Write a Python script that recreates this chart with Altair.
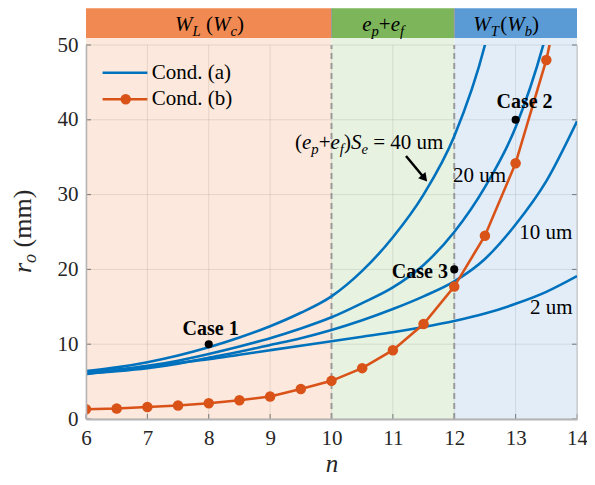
import altair as alt
import pandas as pd

# ---------------- data ----------------
N = [6.0, 6.5, 7.0, 7.5, 8.0, 8.5, 9.0, 9.5, 10.0, 10.5, 11.0, 11.5, 12.0, 12.5, 13.0, 13.5, 14.0]
R_40UM = [6.4, 6.9, 7.6, 8.5, 9.6, 10.9, 12.4, 14.2, 16.4, 19.8, 24.3, 30.0, 37.8, 50.0, 70.0, None, None]
R_20UM = [6.2, 6.6, 7.1, 7.8, 8.7, 9.7, 10.8, 12.1, 13.6, 15.5, 17.6, 20.6, 25.0, 31.0, 39.0, 51.5, 70.0]
R_10UM = [6.1, 6.4, 6.8, 7.4, 8.2, 9.0, 9.9, 10.8, 11.9, 13.2, 14.7, 16.4, 18.4, 21.4, 26.0, 31.8, 39.8]
R_2UM = [6.0, 6.5, 7.0, 7.5, 8.0, 8.6, 9.2, 9.8, 10.4, 11.0, 11.6, 12.3, 13.1, 14.1, 15.4, 17.0, 19.1]
R_COND_B = [1.3, 1.4, 1.6, 1.8, 2.1, 2.5, 3.0, 4.0, 5.1, 6.8, 9.2, 12.7, 17.7, 24.5, 34.2, 48.0, 67.0]

CASE_N = [8, 13, 12]
CASE_R = [10, 40, 20]
CASE_LABELS = ["Case 1", "Case 2", "Case 3"]

X_TICKS = [6, 7, 8, 9, 10, 11, 12, 13, 14]
Y_TICKS = [0, 10, 20, 30, 40, 50]

REGION_START = [6, 10, 12]
REGION_END = [10, 12, 14]
REGION_LIGHT = ["#FCE8DC", "#E8F2E1", "#E2EDF8"]
REGION_DARK = ["#F08A52", "#7DB65A", "#5B9BD5"]
BOUNDARIES = [10, 12]

LEGEND_LABELS = ["Cond. (a)", "Cond. (b)"]

# ---------------- layout / style ----------------
W, H = 491, 374
X_MIN, X_MAX, Y_MIN, Y_MAX = 6, 14, 0, 50
PXN = W / (X_MAX - X_MIN)
PXR = H / (Y_MAX - Y_MIN)
FONT = "Liberation Serif"
BLUE = "#0072BD"
ORANGE = "#D95319"
TXT = "#262626"
BAND_LO, BAND_HI = 50.95, 54.9

xs = alt.Scale(domain=[X_MIN, X_MAX], nice=False, zero=False)
ys = alt.Scale(domain=[Y_MIN, Y_MAX], nice=False, zero=False)

XAXIS = alt.Axis(
    values=X_TICKS, title="n", titleFontStyle="italic", titleFontWeight="normal",
    titleFont=FONT, titleFontSize=25, titleColor=TXT, titlePadding=3,
    labelFont=FONT, labelFontSize=21, labelColor=TXT, labelPadding=8,
    labelFlush=False, ticks=False, grid=False, domainColor="#b4b4b4",
    domainWidth=2, zindex=1)
YAXIS = alt.Axis(
    values=Y_TICKS, title=None, labelFont=FONT, labelFontSize=21,
    labelColor=TXT, labelPadding=8, ticks=False, grid=False,
    domainColor="#b4b4b4", domainWidth=1.5, zindex=1)


def X(f="n"):
    return alt.X(f"{f}:Q", scale=xs, axis=XAXIS, title="n")


def Y(f="r"):
    return alt.Y(f"{f}:Q", scale=ys, axis=YAXIS, title=None)


# char widths (per 1000 em), Times metrics
NORMAL_W = {" ": 250, "(": 333, ")": 333, "+": 564, "=": 564, "u": 500, "m": 778,
            "C": 667, "o": 500, "n": 500, "d": 500, ".": 250, "a": 444, "b": 500}
ITALIC_W = {"e": 444, "p": 500, "f": 278, "S": 500, "W": 833, "L": 556, "c": 444,
            "T": 640, "b": 500, "r": 389, "o": 500, "n": 500}
BOLD_W = {"C": 722, "a": 500, "s": 389, "e": 444, " ": 250}


def text_width(t, style, fs):
    table = {"normal": NORMAL_W, "italic": ITALIC_W, "bold": BOLD_W}[style]
    return sum(table.get(ch, 500) for ch in t) * fs / 1000.0


def rich(parts, n0, r0, size):
    rows = []
    px = 0.0
    for t, style, sub in parts:
        fs = size * 0.7 if sub else size
        lead = len(t) - len(t.lstrip(" "))
        px += text_width(" " * lead, "normal", fs)
        t = t.lstrip(" ")
        r = r0 - (0.22 * size / PXR if sub else 0.0)
        rows.append({"n": n0 + px / PXN, "r": r, "t": t, "s": style, "fs": fs})
        px += text_width(t, style, fs)
    return rows


# ---------------- tables ----------------
regions = pd.DataFrame({"n": REGION_START, "n2": REGION_END,
                        "light": REGION_LIGHT, "dark": REGION_DARK})
regions["r"], regions["r2"], regions["b1"], regions["b2"] = Y_MIN, BAND_LO, BAND_LO, BAND_HI

blue_rows = []
for name, vals in [("40", R_40UM), ("20", R_20UM), ("10", R_10UM), ("2", R_2UM)]:
    for n, r in zip(N, vals):
        if r is not None:
            blue_rows.append({"curve": name, "n": n, "r": r})
blue = pd.DataFrame(blue_rows)
orange = pd.DataFrame({"n": N, "r": R_COND_B})
cases = pd.DataFrame({"n": CASE_N, "r": CASE_R})

grid_x = pd.DataFrame({"n": X_TICKS})
grid_x["r"], grid_x["r2"] = Y_MIN, Y_MAX
grid_y = pd.DataFrame({"r": Y_TICKS})
grid_y["n"], grid_y["n2"] = X_MIN, X_MAX

tick_x = pd.DataFrame({"n": X_TICKS})
tick_x["r"], tick_x["r2"] = Y_MIN, Y_MIN + 5 / PXR
tick_yl = pd.DataFrame({"r": Y_TICKS})
tick_yl["n"], tick_yl["n2"] = X_MIN, X_MIN + 5 / PXN
tick_yr = pd.DataFrame({"r": Y_TICKS})
tick_yr["n"], tick_yr["n2"] = X_MAX - 5 / PXN, X_MAX

bounds = pd.DataFrame({"n": BOUNDARIES})
bounds["r"], bounds["r2"], bounds["b1"], bounds["b2"] = Y_MIN, Y_MAX, BAND_LO, BAND_HI

# rich text pieces
pieces = []
pieces += rich([("W", "italic", False), ("L", "italic", True), (" (", "normal", False),
                ("W", "italic", False), ("c", "italic", True), (")", "normal", False)],
               7.45, 51.86, 21)
pieces += rich([("e", "italic", False), ("p", "italic", True), ("+", "normal", False),
                ("e", "italic", False), ("f", "italic", True)], 10.50, 51.86, 21)
pieces += rich([("W", "italic", False), ("T", "italic", True), ("(", "normal", False),
                ("W", "italic", False), ("b", "italic", True), (")", "normal", False)],
               12.31, 51.86, 21)
pieces += rich([("(", "normal", False), ("e", "italic", False), ("p", "italic", True),
                ("+", "normal", False), ("e", "italic", False), ("f", "italic", True),
                (")", "normal", False), ("S", "italic", False), ("e", "italic", True),
                (" = 40 um", "normal", False)], 9.405, 36.06, 21)
pieces += rich([("20 um", "normal", False)], 11.98, 31.73, 21)
pieces += rich([("10 um", "normal", False)], 13.06, 24.02, 21)
pieces += rich([("2 um", "normal", False)], 13.234, 14.0, 21)
pieces = pd.DataFrame(pieces)

case_text = pd.DataFrame({"n": [8.03, 13.145, 11.44], "r": [11.23, 41.58, 18.85],
                          "t": CASE_LABELS})

# legend
leg = pd.DataFrame({"n": [6.27, 6.27], "n2": [7.0, 7.0], "r": [46.3, 42.74],
                    "t": LEGEND_LABELS, "c": [BLUE, ORANGE], "tn": [7.07, 7.07]})
leg_dot = pd.DataFrame({"n": [6.647], "r": [42.74]})

arrow = pd.DataFrame({"n": [11.214], "r": [35.16], "n2": [11.515], "r2": [32.18]})

# ---------------- layers ----------------
layers = []
layers.append(alt.Chart(regions).mark_rect().encode(
    x=X(), x2="n2", y=Y(), y2="r2", color=alt.Color("light:N", scale=None)))
layers.append(alt.Chart(regions).mark_rect().encode(
    x=X(), x2="n2", y=Y("b1"), y2="b2", color=alt.Color("dark:N", scale=None)))
layers.append(alt.Chart(grid_x).mark_rule(color="#000000", opacity=0.09, strokeWidth=1).encode(
    x=X(), y=Y(), y2="r2"))
layers.append(alt.Chart(grid_y).mark_rule(color="#000000", opacity=0.09, strokeWidth=1).encode(
    y=Y(), x=X(), x2="n2"))
layers.append(alt.Chart(tick_x).mark_rule(color="#777777", strokeWidth=1).encode(
    x=X(), y=Y(), y2="r2"))
for t in (tick_yl, tick_yr):
    layers.append(alt.Chart(t).mark_rule(color="#777777", strokeWidth=1).encode(
        y=Y(), x=X(), x2="n2"))
layers.append(alt.Chart(pd.DataFrame({"n": [X_MAX], "r": [Y_MIN], "r2": [Y_MAX]}))
              .mark_rule(color="#cccccc", strokeWidth=1).encode(x=X(), y=Y(), y2="r2"))
layers.append(alt.Chart(bounds).mark_rule(color="#9a9a9a", strokeWidth=2, strokeDash=[6, 4]).encode(
    x=X(), y=Y(), y2="r2"))
layers.append(alt.Chart(bounds).mark_rule(color="#9a9a9a", strokeWidth=1).encode(
    x=X(), y=Y("b1"), y2="b2"))

layers.append(alt.Chart(blue).mark_line(interpolate="monotone", clip=True, color=BLUE,
                                        strokeWidth=2.6).encode(
    x=X(), y=Y(), detail="curve:N", order="n:Q"))
layers.append(alt.Chart(orange).mark_line(clip=True, color=ORANGE, strokeWidth=2.6).encode(
    x=X(), y=Y(), order="n:Q"))
layers.append(alt.Chart(orange).mark_circle(clip=True, color=ORANGE, size=110, opacity=1).encode(
    x=X(), y=Y()))
layers.append(alt.Chart(cases).mark_circle(color="black", size=65, opacity=1).encode(
    x=X(), y=Y()))

layers.append(alt.Chart(case_text).mark_text(font=FONT, fontWeight="bold", fontSize=20,
                                             align="center", baseline="alphabetic",
                                             color="black").encode(
    x=X(), y=Y(), text="t:N"))
for style in ["normal", "italic"]:
    layers.append(alt.Chart(pieces[pieces.s == style]).mark_text(
        font=FONT, fontStyle=style, align="left", baseline="alphabetic", color="black").encode(
        x=X(), y=Y(), text="t:N", size=alt.Size("fs:Q", scale=None)))

layers.append(alt.Chart(arrow).mark_rule(color="black", strokeWidth=2.5).encode(
    x=X(), y=Y(), x2="n2", y2="r2"))
layers.append(alt.Chart(arrow).mark_point(shape="triangle-up", filled=True, color="black",
                                          size=90, angle=140, opacity=1).encode(
    x=X("n2"), y=Y("r2")))

# legend
layers.append(alt.Chart(leg).mark_rule(strokeWidth=2.6).encode(
    x=X(), x2="n2", y=Y(), color=alt.Color("c:N", scale=None)))
layers.append(alt.Chart(leg_dot).mark_circle(color=ORANGE, size=110, opacity=1).encode(
    x=X(), y=Y()))
layers.append(alt.Chart(leg).mark_text(font=FONT, fontSize=21, align="left", baseline="middle",
                                       color="black").encode(
    x=X("tn"), y=Y(), text="t:N"))

# y-axis title pieces (rotated)
ytitle = [("r", "italic", 26, -55, 228), ("o", "italic", 18, -50, 217.9),
          ("(mm)", "normal", 26, -55, 202.4)]
for t, st, fs, px, py in ytitle:
    layers.append(alt.Chart(pd.DataFrame({"t": [t]})).mark_text(
        font=FONT, fontStyle=st, fontSize=fs, angle=270, align="left",
        baseline="alphabetic", color=TXT).encode(
        x=alt.value(px), y=alt.value(py), text="t:N"))

chart = alt.layer(*layers).properties(
    width=W, height=H,
    autosize=alt.AutoSizeParams(type="none"),
    padding={"left": 78, "top": 37, "right": 10, "bottom": 58},
).configure_view(stroke=None).configure(background="white")

chart.save("out.html", embed_options={"renderer": "svg", "actions": False})
